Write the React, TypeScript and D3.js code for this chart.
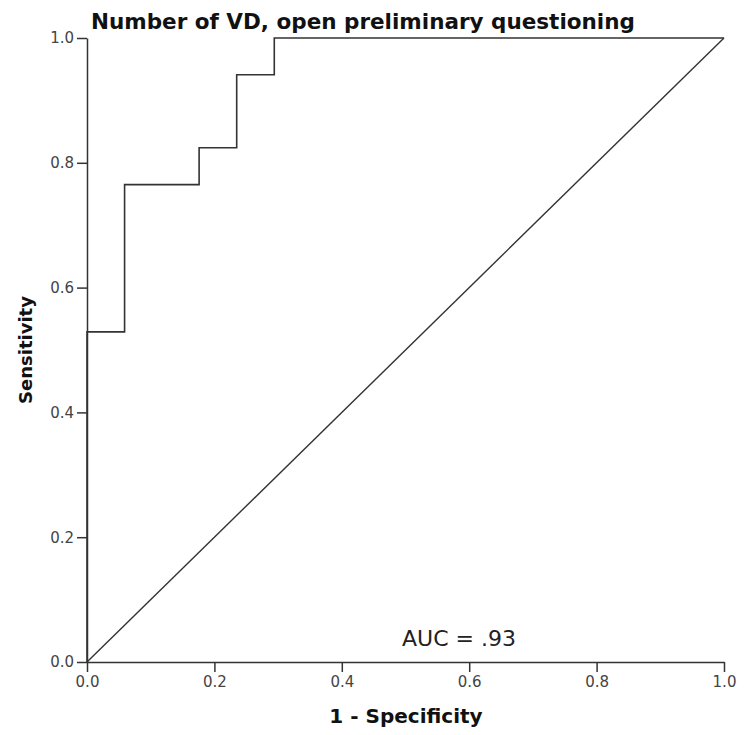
import * as d3 from "d3";
import { useEffect, useRef } from "react";

// ROC points (1 - specificity, sensitivity), drawn as a step curve
const fpr = [0, 0, 0.059, 0.176, 0.235, 0.294, 1.0];
const tpr = [0, 0.529, 0.765, 0.824, 0.941, 1.0, 1.0];
const diagonal = [0, 1];
const ticks = [0, 0.2, 0.4, 0.6, 0.8, 1.0];
const title = "Number of VD, open preliminary questioning";
const xLabel = "1 - Specificity";
const yLabel = "Sensitivity";
const aucLabel = "AUC = .93";

export default function App() {
  const svgRef = useRef<SVGSVGElement>(null);

  useEffect(() => {
    if (!svgRef.current) return;
    const svg = d3.select<SVGSVGElement, unknown>(svgRef.current);
    svg.selectAll("*").remove();

    const width = 745;
    const height = 735;
    const margin = { top: 38, right: 21, bottom: 73, left: 87 };
    const font = "'DejaVu Sans', sans-serif";
    const ink = "#333";

    svg.attr("width", width).attr("height", height);
    svg.append("rect").attr("width", width).attr("height", height).attr("fill", "#fff");

    const x = d3.scaleLinear().domain([0, 1]).range([margin.left, width - margin.right]);
    const y = d3.scaleLinear().domain([0, 1]).range([height - margin.bottom, margin.top]);

    // Axes
    const xAxis = d3
      .axisBottom(x)
      .tickValues(ticks)
      .tickFormat(d3.format(".1f"))
      .tickSizeInner(10)
      .tickSizeOuter(0)
      .tickPadding(4);
    const yAxis = d3
      .axisLeft(y)
      .tickValues(ticks)
      .tickFormat(d3.format(".1f"))
      .tickSizeInner(10)
      .tickSizeOuter(0)
      .tickPadding(3);

    const gx = svg
      .append("g")
      .attr("transform", `translate(0, ${y(0)})`)
      .call(xAxis);
    const gy = svg
      .append("g")
      .attr("transform", `translate(${x(0)}, 0)`)
      .call(yAxis);

    [gx, gy].forEach((g) => {
      g.select(".domain").attr("stroke", ink).attr("stroke-width", 1.5);
      g.selectAll(".tick line").attr("stroke", ink).attr("stroke-width", 1.5);
      g.selectAll(".tick text")
        .attr("fill", "#444")
        .attr("font-size", "15px")
        .attr("font-family", font);
    });

    // Diagonal reference line
    svg
      .append("line")
      .attr("x1", x(diagonal[0]))
      .attr("y1", y(diagonal[0]))
      .attr("x2", x(diagonal[1]))
      .attr("y2", y(diagonal[1]))
      .attr("stroke", ink)
      .attr("stroke-width", 1.4);

    // ROC step curve
    const pts = fpr.map((f, i) => [f, tpr[i]] as [number, number]);
    const line = d3
      .line<[number, number]>()
      .x((d) => x(d[0]))
      .y((d) => y(d[1]))
      .curve(d3.curveStepAfter);
    svg
      .append("path")
      .attr("d", line(pts))
      .attr("fill", "none")
      .attr("stroke", ink)
      .attr("stroke-width", 1.6);

    // Title
    svg
      .append("text")
      .attr("x", 91)
      .attr("y", 29)
      .attr("font-family", font)
      .attr("font-weight", "bold")
      .attr("font-size", "21.5px")
      .attr("fill", "#111")
      .text(title);

    // Axis labels
    svg
      .append("text")
      .attr("x", 406)
      .attr("y", 723)
      .attr("text-anchor", "middle")
      .attr("font-family", font)
      .attr("font-weight", "bold")
      .attr("font-size", "20px")
      .attr("fill", "#111")
      .text(xLabel);

    svg
      .append("text")
      .attr("transform", `translate(32, ${(y(0) + y(1)) / 2}) rotate(-90)`)
      .attr("text-anchor", "middle")
      .attr("font-family", font)
      .attr("font-weight", "bold")
      .attr("font-size", "18px")
      .attr("fill", "#111")
      .text(yLabel);

    // AUC annotation
    svg
      .append("text")
      .attr("x", 402)
      .attr("y", 646)
      .attr("font-family", font)
      .attr("font-size", "22px")
      .attr("fill", "#222")
      .text(aucLabel);
  }, []);

  return <svg ref={svgRef} style={{ position: "absolute", left: 0, top: 0 }}></svg>;
}
